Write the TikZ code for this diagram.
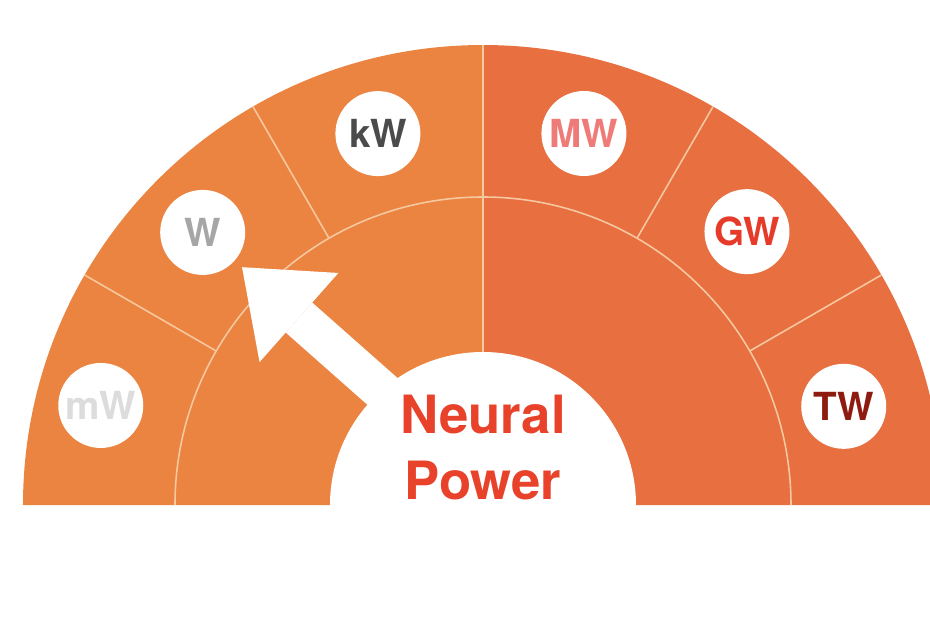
\documentclass[tikz,border=0pt]{standalone}
\usepackage{fontspec}
\setmainfont{TeX Gyre Heros}
\usetikzlibrary{arrows.meta}
\definecolor{gaugeleft}{HTML}{EC8441}
\definecolor{gaugeright}{HTML}{E76F40}
\definecolor{divline}{HTML}{F6C8A0}
\definecolor{powerred}{HTML}{E8432A}
\definecolor{millitext}{HTML}{DCDCDC}
\definecolor{watttext}{HTML}{A6A6A6}
\definecolor{kilotext}{HTML}{4B4B4B}
\definecolor{megatext}{HTML}{EF7B78}
\definecolor{gigatext}{HTML}{E63B2A}
\definecolor{teratext}{HTML}{8E1B0F}

\begin{document}
\begin{tikzpicture}[
  unit/.style={circle, fill=white, minimum size=0.85cm, inner sep=0pt, outer sep=0pt,
    font=\fontsize{11}{13}\selectfont\bfseries},
  divider/.style={divline, line width=0.45pt},
  pointer/.style={white, line width=0.4cm,
    -{Triangle[width=1.19cm, length=0.76cm, line width=0pt]},
    shorten >=0.1cm}
]
  \useasboundingbox (-4.83,-1.15) rectangle (4.47,5.05);
  \clip (-4.83,-1.15) rectangle (4.47,5.05);
  \fill[gaugeleft] (0,0) -- (180:4.6) arc[start angle=180, end angle=90, radius=4.6] -- cycle;
  \fill[gaugeright] (0,0) -- (90:4.6) arc[start angle=90, end angle=0, radius=4.6] -- cycle;
  \draw[divider] (3.08,0) arc[start angle=0, end angle=180, radius=3.08];
  \foreach \a in {30,60,120,150} \draw[divider] (\a:3.08) -- (\a:4.6);
  \draw[divider] (0,0) -- (90:4.6);
  \node[circle, fill=white, minimum size=3.06cm, inner sep=0pt] (hub) at (0,0) {};
  \coordinate (pivot) at (0.28,0);

  \node[unit, text=millitext] (milli) at (165.4:3.95) {mW};
  \node[unit, text=watttext] (watt) at (135.8:3.91) {W};
  \node[unit, text=kilotext] (kilo) at (105.8:3.86) {kW};
  \node[unit, text=megatext] (mega) at (74.8:3.85) {MW};
  \node[unit, text=gigatext] (giga) at (46:3.8) {GW};
  \node[unit, text=teratext] (tera) at (15.3:3.74) {TW};

  \draw[pointer] (pivot) -- (watt);
  \node[font=\fontsize{15}{18.5}\selectfont\bfseries, text=powerred, align=center]
    (caption) at (0,0.575) {Neural\\Power};
\end{tikzpicture}
\end{document}
